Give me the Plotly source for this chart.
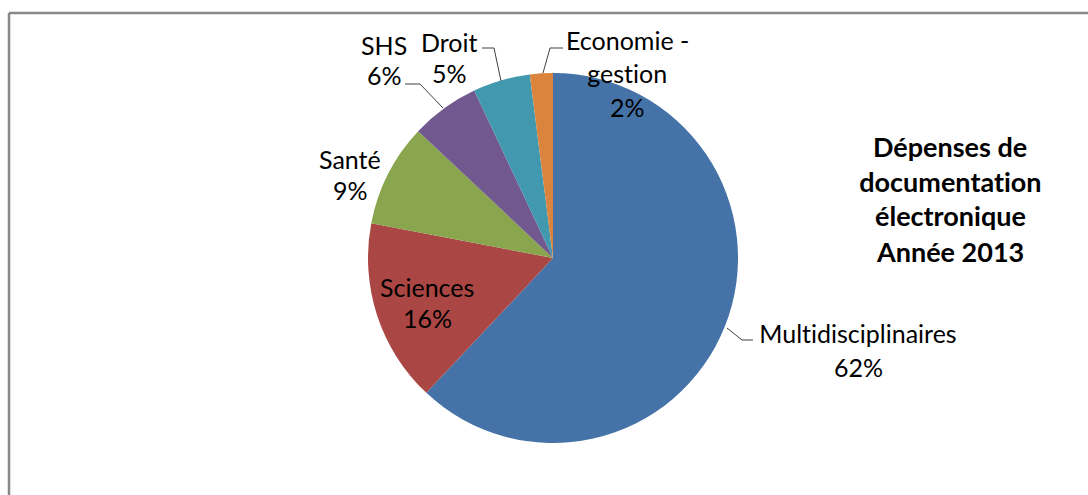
import plotly.graph_objects as go

W, H = 1088, 495

labels = ["Multidisciplinaires", "Sciences", "Santé", "SHS", "Droit", "Economie - gestion"]
values = [62, 16, 9, 6, 5, 2]
colors = ["#4572A7", "#AA4643", "#89A54E", "#71588F", "#4198AF", "#DB843D"]
title_lines = ["Dépenses de", "documentation", "électronique", "Année 2013"]

# label layout (pixel positions of text line centres), one entry per slice
label_lines = {
    "Multidisciplinaires": (["Multidisciplinaires"], 858, [333, 367]),
    "Sciences": (["Sciences"], 427, [287, 318]),
    "Santé": (["Santé"], 350, [159, 190]),
    "SHS": (["SHS"], 384, [45, 75]),
    "Droit": (["Droit"], 449, [42, 73]),
    "Economie - gestion": (["Economie -", "gestion"], 627, [40, 73, 107]),
}

leaders = [
    [(727, 328), (742, 340), (753, 340)],
    [(405, 84), (420, 84), (443, 108)],
    [(482, 48), (494, 48), (501, 81)],
    [(563, 48), (550, 48), (543, 73)],
]

FONT = "Lato"
FS = 25
FS_TITLE = 27

def px(x):
    return x / W

def py(y):
    return 1 - y / H

cx, cy, r = 553, 258, 185

fig = go.Figure(go.Pie(
    labels=labels,
    values=values,
    sort=False,
    direction="clockwise",
    rotation=0,
    textinfo="none",
    hoverinfo="label+percent",
    marker=dict(colors=colors, line=dict(width=0)),
    domain=dict(x=[px(cx - r), px(cx + r)], y=[py(cy + r), py(cy - r)]),
    showlegend=False,
))

annotations = []
for lab, val in zip(labels, values):
    lines, x, ys = label_lines[lab]
    texts = lines + [f"{val}%"]
    for t, y in zip(texts, ys):
        annotations.append(dict(
            x=px(x), y=py(y), xref="paper", yref="paper",
            text=t, showarrow=False, xanchor="center", yanchor="middle",
            font=dict(family=FONT, size=FS, color="#000000"),
        ))

for i, t in enumerate(title_lines):
    annotations.append(dict(
        x=px(950), y=py(146 + 35 * i), xref="paper", yref="paper",
        text=f"<b>{t}</b>", showarrow=False, xanchor="center", yanchor="middle",
        font=dict(family=FONT, size=FS_TITLE, color="#000000"),
    ))

shapes = []
for pts in leaders:
    path = "M " + " L ".join(f"{px(x)} {py(y)}" for x, y in pts)
    shapes.append(dict(type="path", path=path, xref="paper", yref="paper",
                       line=dict(color="#404040", width=1)))

# chart frame (top and left edges visible)
shapes.append(dict(type="line", xref="paper", yref="paper",
                   x0=px(9), y0=py(13), x1=1, y1=py(13),
                   line=dict(color="#888888", width=2.5)))
shapes.append(dict(type="line", xref="paper", yref="paper",
                   x0=px(9), y0=py(13), x1=px(9), y1=0,
                   line=dict(color="#888888", width=2.5)))

fig.update_layout(
    width=W, height=H,
    margin=dict(l=0, r=0, t=0, b=0),
    paper_bgcolor="white",
    plot_bgcolor="white",
    annotations=annotations,
    shapes=shapes,
)

fig.write_html(
    "out.html",
    config={"displayModeBar": False},
    post_script=(
        "document.body.style.margin='0';document.body.style.overflow='hidden';"
        "var s=document.createElement('style');"
        "s.textContent='svg text{font-variant-ligatures:none;font-feature-settings:\"liga\" 0;}';"
        "document.head.appendChild(s);"
    ),
)
